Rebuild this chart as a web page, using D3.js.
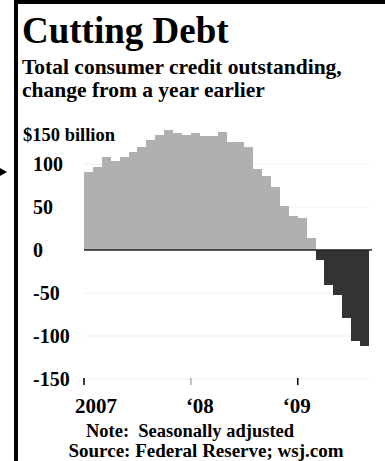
<!DOCTYPE html>
<html lang="en">
<head>
  <meta charset="utf-8">
  <title>Cutting Debt</title>
  <script src="https://d3js.org/d3.v7.min.js"></script>
  <style>
    body { margin: 0; background: #fff; }
    svg text { font-family: "Liberation Serif", "Times New Roman", serif; font-weight: bold; fill: #000; }
  </style>
</head>
<body>
  <div id="chart"></div>
  <script>
    // Monthly change from a year earlier, $ billions (Jan 2007 - Aug 2009)
    var months = [
      "2007-01", "2007-02", "2007-03", "2007-04", "2007-05", "2007-06", "2007-07", "2007-08",
      "2007-09", "2007-10", "2007-11", "2007-12", "2008-01", "2008-02", "2008-03", "2008-04",
      "2008-05", "2008-06", "2008-07", "2008-08", "2008-09", "2008-10", "2008-11", "2008-12",
      "2009-01", "2009-02", "2009-03", "2009-04", "2009-05", "2009-06", "2009-07", "2009-08"
    ];
    var change = [
      91, 96, 108, 104, 108, 114, 120, 128,
      134, 140, 136, 134, 136, 133, 132, 137,
      126, 126, 120, 94, 86, 73, 51, 40,
      37, 14, -12, -41, -52, -79, -106, -112
    ];
    var yTicks = [100, 50, 0, -50, -100, -150];
    var gridValues = [100, 50, -50, -100, -150];
    var xTickMonths = ["2007-01", "2008-01", "2009-01"];
    var xTickLabels = ["2007", "\u201808", "\u201809"];

    var W = 385, H = 461;
    var svg = d3.select("#chart").append("svg")
      .attr("width", W)
      .attr("height", H);

    // frame: thick top and left rules
    svg.append("rect").attr("x", 14).attr("y", 0).attr("width", W - 14).attr("height", 4).attr("fill", "#000");
    svg.append("rect").attr("x", 14).attr("y", 0).attr("width", 4).attr("height", H).attr("fill", "#000");
    // little pointer at the left edge
    svg.append("path").attr("d", "M0,168L7,172L0,176Z").attr("fill", "#000");

    // titles
    svg.append("text").attr("x", 22).attr("y", 43).style("font-size", "37px").text("Cutting Debt");
    svg.append("text").attr("x", 22).attr("y", 74).style("font-size", "21.5px").text("Total consumer credit outstanding,");
    svg.append("text").attr("x", 22).attr("y", 97).style("font-size", "21.5px").text("change from a year earlier");

    var x = d3.scaleBand().domain(months).range([84, 369]).paddingInner(0).paddingOuter(0);
    var y = d3.scaleLinear().domain([-150, 150]).range([379, 121]);

    // faint gridlines
    svg.append("g").selectAll("line").data(gridValues).enter()
      .append("line")
      .attr("x1", 84).attr("x2", 369)
      .attr("y1", d => y(d)).attr("y2", d => y(d))
      .attr("stroke", "#f0f0f0")
      .attr("stroke-width", 1);

    // bars
    svg.append("g").selectAll("rect").data(change).enter()
      .append("rect")
      .attr("x", (d, i) => x(months[i]))
      .attr("width", x.bandwidth())
      .attr("y", d => y(Math.max(0, d)))
      .attr("height", d => Math.abs(y(d) - y(0)))
      .attr("fill", d => d >= 0 ? "#b0b0b0" : "#333333")
      .attr("shape-rendering", "crispEdges");

    // zero line
    svg.append("line")
      .attr("x1", 84).attr("x2", 372)
      .attr("y1", y(0)).attr("y2", y(0))
      .attr("stroke", "#222")
      .attr("stroke-width", 1.5);

    // y labels
    svg.append("text").attr("x", 23).attr("y", 141).style("font-size", "18.5px").text("$150 billion");
    svg.append("g").selectAll("text").data(yTicks).enter()
      .append("text")
      .attr("x", 33)
      .attr("y", d => y(d) + 7)
      .style("font-size", "20px")
      .text(d => d);

    // x ticks and labels
    var labelShift = [12, 9, -1];
    svg.append("g").selectAll("line").data(xTickMonths).enter()
      .append("line")
      .attr("x1", d => x(d)).attr("x2", d => x(d))
      .attr("y1", y(-150) - 1).attr("y2", y(-150) + 6)
      .attr("stroke", (d, i) => i === 1 ? "#aaa" : "#000")
      .attr("stroke-width", 1.5);
    svg.append("g").selectAll("text").data(xTickLabels).enter()
      .append("text")
      .attr("x", (d, i) => x(xTickMonths[i]) + labelShift[i])
      .attr("y", 413)
      .attr("text-anchor", "middle")
      .style("font-size", "21px")
      .text(d => d);

    // notes
    svg.append("text").attr("x", 190).attr("y", 437).attr("text-anchor", "middle")
      .style("font-size", "18.5px").style("white-space", "pre").text("Note:  Seasonally adjusted");
    svg.append("text").attr("x", 206).attr("y", 457).attr("text-anchor", "middle")
      .style("font-size", "19px").text("Source: Federal Reserve; wsj.com");
  </script>
</body>
</html>
